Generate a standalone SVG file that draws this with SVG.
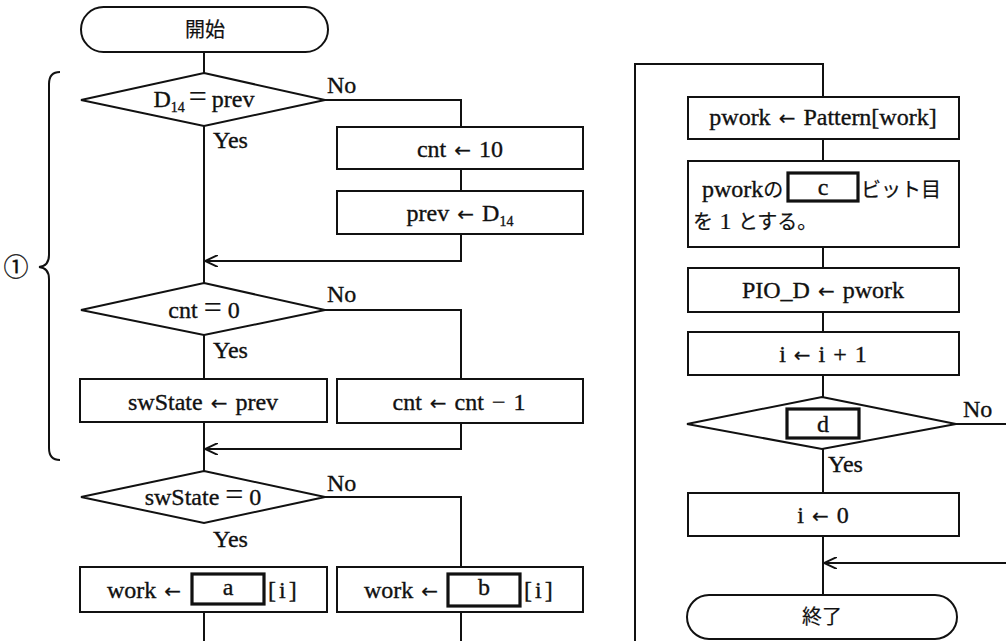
<svg xmlns="http://www.w3.org/2000/svg" width="1006" height="641" viewBox="0 0 1006 641">
<style>
  .shape { fill: #fff; stroke: #111; stroke-width: 2; }
  .blank { fill: #fff; stroke: #111; stroke-width: 3.2; }
  .line { fill: none; stroke: #111; stroke-width: 2; }
  text { font-family: "Liberation Serif", "Noto Sans CJK JP", serif; font-size: 24px; fill: #111; stroke: #111; stroke-width: 0.35px; word-spacing: 2px; }
  .c { text-anchor: middle; }
  .jp { font-family: "Noto Sans CJK JP", "Liberation Serif", sans-serif; font-size: 20px; stroke-width: 0.2px; }
  .sub { font-size: 14px; }
  .ar { font-family: "DejaVu Sans", sans-serif; font-size: 20px; stroke-width: 0.2px; }
  .eq { font-size: 32px; stroke-width: 0.2px; }
</style>
<defs>
  <marker id="arrow" viewBox="0 0 13 12" refX="13" refY="6" markerWidth="13" markerHeight="12" markerUnits="userSpaceOnUse" orient="auto">
    <path d="M0,0 L13,6 L0,12" fill="none" stroke="#111" stroke-width="2"/>
  </marker>
</defs>
<rect width="1006" height="641" fill="#fff"/>

<g id="connectors">
  <path class="line" d="M204,52 V73"/>
  <path class="line" d="M204,126 V283"/>
  <path class="line" d="M325,100 H461 V127"/>
  <path class="line" d="M461,169 V191"/>
  <path class="line" d="M461,234 V261 H205" marker-end="url(#arrow)"/>
  <path class="line" d="M204,335 V379"/>
  <path class="line" d="M325,310 H461 V379"/>
  <path class="line" d="M204,422 V471"/>
  <path class="line" d="M461,423 V449 H205" marker-end="url(#arrow)"/>
  <path class="line" d="M325,497 H461 V567"/>
  <path class="line" d="M204,612 V641"/>
  <path class="line" d="M461,612 V641"/>
  <path class="line" d="M635,641 V64 H823 V97"/>
  <path class="line" d="M823,139 V161"/>
  <path class="line" d="M823,247 V268"/>
  <path class="line" d="M823,312 V332"/>
  <path class="line" d="M823,375 V397"/>
  <path class="line" d="M823,449 V493"/>
  <path class="line" d="M823,536 V595"/>
  <path class="line" d="M956,424 H1006"/>
  <path class="line" d="M1006,563 H824" marker-end="url(#arrow)"/>
  <text x="327" y="93">No</text>
  <text x="213" y="148">Yes</text>
  <text x="327" y="302">No</text>
  <text x="213" y="358">Yes</text>
  <text x="327" y="491">No</text>
  <text x="213" y="547">Yes</text>
  <text x="963" y="417">No</text>
  <text x="828" y="472">Yes</text>
</g>

<g id="brace">
  <path class="line" d="M60,72 Q49,72 49,84 V255 Q49,266 39,267 Q49,268 49,279 V448 Q49,460 60,460"/>
  <text x="16" y="276" class="c" style="font-family:'Noto Sans CJK JP',sans-serif;font-size:25px;stroke-width:0.3px">①</text>
</g>

<g id="start">
  <rect class="shape" x="81" y="7" width="247" height="45" rx="22.5"/>
  <text class="c jp" x="205" y="37">開始</text>
</g>

<g id="dec1">
  <polygon class="shape" points="204,73 325,100 204,126 81,100"/>
  <text class="c" x="204" y="107">D<tspan class="sub" dy="5">14</tspan><tspan class="eq" dy="-5" dx="4">=</tspan><tspan dx="5">prev</tspan></text>
</g>

<g id="cnt10">
  <rect class="shape" x="337" y="127" width="246" height="42"/>
  <text class="c" x="460" y="157">cnt <tspan class="ar">←</tspan> 10</text>
</g>

<g id="prevD14">
  <rect class="shape" x="337" y="191" width="246" height="43"/>
  <text class="c" x="460" y="221">prev <tspan class="ar">←</tspan> D<tspan class="sub" dy="5">14</tspan></text>
</g>

<g id="dec2">
  <polygon class="shape" points="204,283 325,310 204,335 81,310"/>
  <text class="c" x="204" y="318">cnt<tspan class="eq" dx="6">=</tspan><tspan dx="6">0</tspan></text>
</g>

<g id="swState">
  <rect class="shape" x="80" y="379" width="247" height="43"/>
  <text class="c" x="203" y="410">swState <tspan class="ar">←</tspan> prev</text>
</g>

<g id="cntdec">
  <rect class="shape" x="337" y="379" width="246" height="44"/>
  <text class="c" x="459" y="410">cnt <tspan class="ar">←</tspan> cnt − 1</text>
</g>

<g id="dec3">
  <polygon class="shape" points="204,471 325,497 204,523 81,497"/>
  <text class="c" x="203" y="505">swState<tspan class="eq" dx="6">=</tspan><tspan dx="6">0</tspan></text>
</g>

<g id="worka">
  <rect class="shape" x="80" y="567" width="247" height="45"/>
  <text x="107" y="598">work <tspan class="ar">←</tspan></text>
  <rect class="blank" x="192" y="574" width="72" height="30"/>
  <text class="c" x="228" y="595">a</text>
  <text x="268" y="598" letter-spacing="3">[i]</text>
</g>

<g id="workb">
  <rect class="shape" x="337" y="567" width="246" height="45"/>
  <text x="364" y="598">work <tspan class="ar">←</tspan></text>
  <rect class="blank" x="448" y="574" width="72" height="32"/>
  <text class="c" x="484" y="595">b</text>
  <text x="524" y="598" letter-spacing="3">[i]</text>
</g>

<g id="pwork">
  <rect class="shape" x="688" y="97" width="271" height="42"/>
  <text class="c" x="823" y="125">pwork <tspan class="ar">←</tspan> Pattern[work]</text>
</g>

<g id="setbit">
  <rect class="shape" x="688" y="161" width="271" height="86"/>
  <text x="702" y="197">pwork<tspan class="jp">の</tspan></text>
  <rect class="blank" x="788" y="173" width="70" height="28"/>
  <text class="c" x="823" y="195">c</text>
  <text class="jp" x="861" y="197">ビット目</text>
  <text class="jp" x="693" y="229">を <tspan style="font-family:'Liberation Serif',serif;font-size:24px">1</tspan> とする。</text>
</g>

<g id="pio">
  <rect class="shape" x="688" y="268" width="271" height="44"/>
  <text class="c" x="823" y="298">PIO_D <tspan class="ar">←</tspan> pwork</text>
</g>

<g id="inc">
  <rect class="shape" x="688" y="332" width="271" height="43"/>
  <text class="c" x="823" y="362">i <tspan class="ar">←</tspan> i + 1</text>
</g>

<g id="dec4">
  <polygon class="shape" points="822,397 956,424 822,449 687,424"/>
  <rect class="blank" x="787" y="409" width="72" height="29"/>
  <text class="c" x="823" y="432">d</text>
</g>

<g id="reset">
  <rect class="shape" x="688" y="493" width="271" height="43"/>
  <text class="c" x="823" y="523">i <tspan class="ar">←</tspan> 0</text>
</g>

<g id="end">
  <rect class="shape" x="687" y="595" width="270" height="44" rx="22"/>
  <text class="c jp" x="822" y="624">終了</text>
</g>
</svg>
